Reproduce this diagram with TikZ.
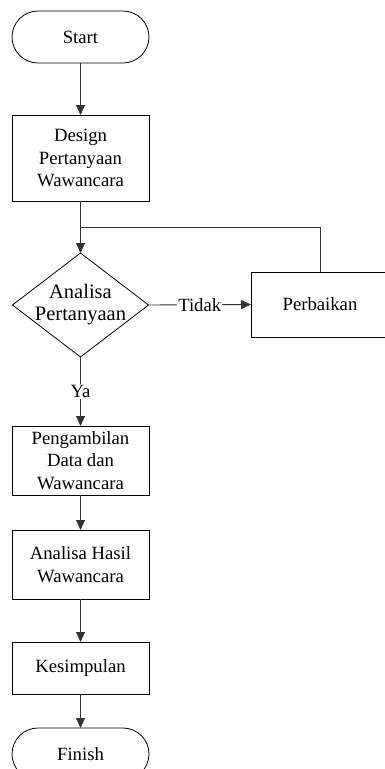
\documentclass[tikz,border=0pt]{standalone}
\usepackage{fontspec}
\setmainfont{Liberation Serif}
\newfontfamily\diagfont{Liberation Serif}
\usetikzlibrary{shapes.geometric,shapes.misc,arrows.meta}
\begin{document}
\begin{tikzpicture}[x=1pt,y=1pt,
  font=\diagfont\fontsize{18.7}{22.5}\selectfont,
  every node/.style={inner sep=0pt, outer sep=0pt, align=center},
  term/.style={draw, line width=0.8pt, rounded rectangle, minimum width=137pt, minimum height=52pt},
  procbox/.style={draw, line width=0.8pt, rectangle, minimum width=137pt},
  decide/.style={draw, line width=0.8pt, diamond, minimum width=136pt, minimum height=104pt},
  conn/.style={draw=black!80, line width=0.9pt},
  arr/.style={conn, -{Triangle[length=10pt,width=9pt]}},
  lbl/.style={fill=white, inner sep=1pt}
]
\useasboundingbox (0,0) rectangle (384,-769);
\node[term] (start) at (80.5,-37) {Start};
\node[procbox, minimum height=86pt] (design) at (80.5,-158) {Design\\Pertanyaan\\Wawancara};
\node[decide, label={[align=center, font=\diagfont\fontsize{20.5}{22}\selectfont]center:Analisa\\Pertanyaan}] (dec) at (80.5,-305) {};
\node[procbox, minimum width=138pt, minimum height=65pt] (perb) at (320,-304.5) {Perbaikan};
\node[procbox, minimum height=69pt] (peng) at (80.5,-460.5) {Pengambilan\\Data dan\\Wawancara};
\node[procbox, minimum height=69pt] (hasil) at (80.5,-564.5) {Analisa Hasil\\Wawancara};
\node[procbox, minimum height=52pt] (kes) at (80.5,-668) {Kesimpulan};
\node[term] (fin) at (80.5,-754) {Finish};
\coordinate (join) at (80.5,-227);

\draw[arr] (start) -- (design);
\draw[arr] (design) -- (dec);
\draw[conn] (perb.north) |- (join);
\draw[arr] (dec.east) -- node[lbl] {Tidak} (perb.west);
\draw[arr] (dec.south) -- node[lbl] {Ya} (peng.north);
\draw[arr] (peng) -- (hasil);
\draw[arr] (hasil) -- (kes);
\draw[arr] (kes) -- (fin);
\end{tikzpicture}
\end{document}
